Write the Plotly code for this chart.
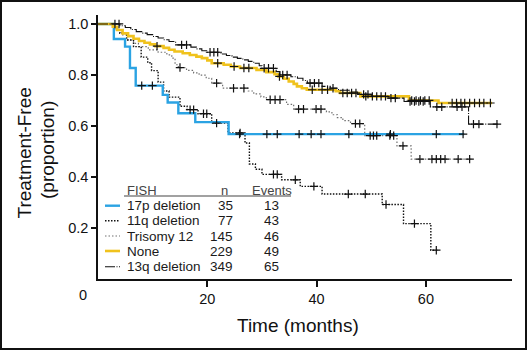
import plotly.graph_objects as go
import numpy as np

# ---------------- data ----------------
groups = ["17p deletion", "11q deletion", "Trisomy 12", "None", "13q deletion"]
n_pat = [35, 77, 145, 229, 349]
n_events = [13, 43, 46, 49, 65]

t_17p = [0, 2.9, 4.95, 5.85, 6.9, 11.85, 12.75, 14.7, 17.8, 23.9, 67.0]
s_17p = [1.0, 0.941, 0.911, 0.827, 0.758, 0.722, 0.692, 0.650, 0.615, 0.568, 0.568]
c_17p = [8.0, 9.95, 25.9, 30.9, 32.8, 36.8, 39.0, 40.8, 45.9, 53.5, 61.9, 66.8]

t_11q = [0, 2.9, 4.0, 5.25, 6.5, 7.9, 9.1, 9.8, 11.0, 12.0, 13.0, 15.0, 16.3, 18.3,
         20.8, 23.8, 26.9, 27.7, 28.8, 30.0, 33.6, 37.0, 41.0, 52.0, 55.9, 60.9, 62.2]
s_11q = [1.0, 0.976, 0.963, 0.937, 0.911, 0.870, 0.848, 0.817, 0.772, 0.737, 0.713,
         0.677, 0.664, 0.648, 0.611, 0.573, 0.533, 0.451, 0.430, 0.410, 0.389, 0.363,
         0.333, 0.292, 0.217, 0.113, 0.113]
c_11q = [16.85, 17.5, 19.3, 19.9, 21.7, 26.0, 32.1, 32.8, 36.1, 39.5, 45.8, 48.9,
         52.7, 57.9, 61.9]

t_tri = [0, 3.1, 4.3, 5.5, 6.5, 7.4, 9.2, 11.0, 12.6, 13.5, 14.1, 14.7, 16.2, 17.5,
         18.5, 19.8, 20.8, 22.8, 27.5, 28.5, 29.8, 30.8, 34.5, 35.8, 41.8, 42.8, 43.8,
         44.8, 46.2, 48.8, 54.7, 57.3, 68.3]
s_tri = [1.0, 0.977, 0.957, 0.937, 0.924, 0.911, 0.898, 0.889, 0.879, 0.866, 0.840,
         0.829, 0.818, 0.808, 0.799, 0.787, 0.768, 0.748, 0.737, 0.726, 0.714, 0.703,
         0.685, 0.666, 0.655, 0.644, 0.633, 0.621, 0.609, 0.562, 0.522, 0.470, 0.470]
c_tri = [15.0, 21.7, 24.8, 26.7, 31.5, 32.4, 33.3, 36.7, 37.6, 39.9, 40.8, 47.1,
         47.9, 49.8, 50.4, 51.0, 53.4, 54.1, 55.8, 58.9, 61.1, 61.9, 62.7, 63.5,
         65.9, 68.0]

t_none = [0, 2.7, 3.5, 4.5, 5.5, 6.5, 7.5, 8.5, 9.5, 10.5, 12.0, 13.0, 14.0, 15.5,
          16.8, 18.0, 19.0, 20.0, 20.8, 23.0, 24.3, 26.0, 29.0, 30.8, 32.3, 33.0,
          34.0, 34.9, 35.8, 36.4, 37.3, 38.2, 43.5, 44.3, 48.0, 56.9, 62.3, 72.1]
s_none = [1.0, 0.989, 0.976, 0.963, 0.952, 0.942, 0.933, 0.926, 0.920, 0.913, 0.906,
          0.899, 0.892, 0.885, 0.878, 0.872, 0.866, 0.857, 0.846, 0.840, 0.833, 0.827,
          0.820, 0.811, 0.803, 0.794, 0.785, 0.774, 0.765, 0.755, 0.748, 0.742, 0.736,
          0.729, 0.716, 0.700, 0.690, 0.690]
c_none = [10.8, 21.9, 24.9, 26.7, 27.6, 33.2, 39.2, 41.0, 42.0, 44.8, 45.6, 46.4,
          47.2, 49.0, 50.2, 57.4, 58.2, 59.0, 59.8, 60.6, 64.8, 65.6, 66.4, 67.1,
          68.0, 68.9, 69.8, 70.6, 71.8]

t_13q = [0, 4.0, 5.0, 6.0, 7.0, 8.0, 9.0, 10.0, 11.0, 12.0, 13.0, 14.2, 17.0, 18.0,
         19.0, 20.0, 22.5, 23.5, 24.5, 25.5, 26.5, 27.5, 28.5, 29.5, 30.0, 32.6, 33.3,
         35.3, 36.5, 37.5, 38.3, 41.0, 42.5, 44.0, 46.0, 47.5, 50.0, 53.0, 56.0, 60.8,
         67.8, 73.4]
s_13q = [1.0, 0.993, 0.986, 0.978, 0.970, 0.964, 0.958, 0.951, 0.945, 0.938, 0.931,
         0.918, 0.909, 0.902, 0.895, 0.889, 0.882, 0.876, 0.870, 0.865, 0.859, 0.853,
         0.846, 0.836, 0.826, 0.813, 0.800, 0.793, 0.787, 0.778, 0.768, 0.755, 0.748,
         0.740, 0.733, 0.724, 0.716, 0.709, 0.696, 0.675, 0.607, 0.607]
c_13q = [3.1, 3.85, 15.3, 16.2, 20.5, 21.2, 21.9, 30.4, 31.2, 32.1, 33.8, 34.6, 38.8,
         39.6, 40.4, 43.0, 48.6, 49.4, 51.0, 51.8, 52.6, 53.6, 54.4, 57.1, 57.9, 58.7,
         59.5, 62.0, 62.9, 65.7, 66.6, 68.7, 69.7, 73.0]

x_ticks = [20, 40, 60]
y_ticks = [0.2, 0.4, 0.6, 0.8, 1.0]

# ---------------- styling ----------------
W, H = 527, 350
ML, MR, MT, MB = 98, 15, 15, 71
PW, PH = W - ML - MR, H - MT - MB
TEXT_FONT = "Liberation Sans, Arial, sans-serif"
TITLE_FONT = "Liberation Sans, Arial, sans-serif"

styles = {
    "17p deletion": dict(color="#2BA3E3", width=2.4, dash="solid"),
    "11q deletion": dict(color="#111111", width=1.4, dash="1.5px,1.5px"),
    "Trisomy 12": dict(color="#707070", width=1.2, dash="1.5px,2px"),
    "None": dict(color="#F0C21C", width=2.6, dash="solid"),
    "13q deletion": dict(color="#111111", width=1.1, dash="10px,1.5px,1px,1.5px"),
}

series = {
    "17p deletion": (t_17p, s_17p, c_17p),
    "11q deletion": (t_11q, s_11q, c_11q),
    "Trisomy 12": (t_tri, s_tri, c_tri),
    "None": (t_none, s_none, c_none),
    "13q deletion": (t_13q, s_13q, c_13q),
}


def step_value(t, s, x):
    idx = np.searchsorted(np.asarray(t), x, side="right") - 1
    return float(np.asarray(s)[max(idx, 0)])


fig = go.Figure()
draw_order = ["Trisomy 12", "11q deletion", "17p deletion", "None", "13q deletion"]
for name in draw_order:
    t, s, c = series[name]
    st = styles[name]
    fig.add_trace(go.Scatter(x=t, y=s, mode="lines", line_shape="hv",
                             line=dict(color=st["color"], width=st["width"], dash=st["dash"]),
                             showlegend=False, hoverinfo="skip"))
for name in draw_order:
    t, s, c = series[name]
    fig.add_trace(go.Scatter(x=c, y=[step_value(t, s, v) for v in c], mode="markers",
                             marker=dict(symbol="cross-thin", size=6,
                                         line=dict(color="#111111", width=1.2)),
                             showlegend=False, hoverinfo="skip"))


def px(x):
    return (x - ML) / PW


def py(y):
    return 1 - (y - MT) / PH


annotations = []
shapes = []

# legend table
hdr_y = 190
annotations += [
    dict(x=px(124.5), y=py(hdr_y), text="FISH", xanchor="left", yanchor="middle"),
    dict(x=px(224.5), y=py(hdr_y), text="n", xanchor="center", yanchor="middle"),
    dict(x=px(271.5), y=py(hdr_y), text="Events", xanchor="center", yanchor="middle"),
]
for a in annotations:
    a.update(xref="paper", yref="paper", showarrow=False,
             font=dict(family=TEXT_FONT, size=13, color="#444444"))
shapes.append(dict(type="line", xref="paper", yref="paper", x0=px(124), x1=px(291),
                   y0=py(196), y1=py(196), line=dict(color="#444444", width=1.2)))

row_y = [205.7, 220.7, 236.0, 251.0, 266.7]
for i, name in enumerate(groups):
    yy = py(row_y[i])
    st = styles[name]
    shapes.append(dict(type="line", xref="paper", yref="paper", x0=px(105), x1=px(120),
                       y0=yy, y1=yy,
                       line=dict(color=st["color"], width=st["width"], dash=st["dash"])))
    for txt, xx, anc in [(name, 125, "left"), (str(n_pat[i]), 235, "right"),
                         (str(n_events[i]), 271, "center")]:
        annotations.append(dict(xref="paper", yref="paper", x=px(xx), y=yy, text=txt,
                                xanchor=anc, yanchor="middle", showarrow=False,
                                font=dict(family=TEXT_FONT, size=13.5, color="#1a1a1a")))

# corner zero label
annotations.append(dict(xref="paper", yref="paper", x=px(82.5), y=py(295), text="0",
                        xanchor="center", yanchor="middle", showarrow=False,
                        font=dict(family=TEXT_FONT, size=14.5, color="#111111")))
# axis titles
annotations.append(dict(xref="paper", yref="paper", x=px(298), y=py(325),
                        text="Time (months)", xanchor="center", yanchor="middle",
                        showarrow=False,
                        font=dict(family=TITLE_FONT, size=19, color="#111111")))
annotations.append(dict(xref="paper", yref="paper", x=px(23.5), y=py(153),
                        text="Treatment-Free", textangle=-90, xanchor="center",
                        yanchor="middle", showarrow=False,
                        font=dict(family=TITLE_FONT, size=19, color="#111111")))
annotations.append(dict(xref="paper", yref="paper", x=px(47), y=py(150),
                        text="(proportion)", textangle=-90, xanchor="center",
                        yanchor="middle", showarrow=False,
                        font=dict(family=TITLE_FONT, size=19, color="#111111")))

# outer frame
shapes.append(dict(type="rect", xref="paper", yref="paper", x0=px(1), x1=px(W - 1),
                   y0=py(H - 1), y1=py(1), line=dict(color="#111111", width=2),
                   layer="above"))

fig.update_layout(
    width=W, height=H, autosize=False,
    margin=dict(l=ML, r=MR, t=MT, b=MB, pad=0),
    paper_bgcolor="white", plot_bgcolor="white",
    annotations=annotations, shapes=shapes,
    xaxis=dict(range=[0, 75.75], tickvals=x_ticks, ticks="outside", ticklen=6,
               tickwidth=1.5, tickcolor="#111111", showline=True, linewidth=1.6,
               linecolor="#111111", showgrid=False, zeroline=False,
               tickfont=dict(family=TEXT_FONT, size=14.5, color="#111111")),
    yaxis=dict(range=[0, 1.035], tickvals=y_ticks, tickformat=".1f", ticks="outside",
               ticklen=5, tickwidth=1.5, tickcolor="#111111", showline=True,
               linewidth=1.6, linecolor="#111111", showgrid=False, zeroline=False,
               tickfont=dict(family=TEXT_FONT, size=14.5, color="#111111")),
)

fig.write_html("out.html")
